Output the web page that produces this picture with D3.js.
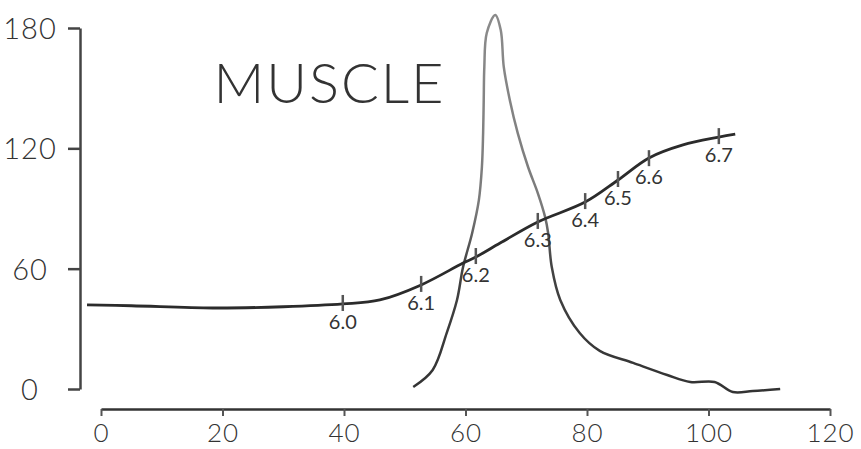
<!DOCTYPE html>
<html>
<head>
<meta charset="utf-8">
<script src="https://cdn.jsdelivr.net/npm/d3@7"></script>
<style>
  html, body { margin: 0; padding: 0; background: #fff; }
  svg { display: block; }
  text { font-family: Lato, "Open Sans", "DejaVu Sans", sans-serif; font-weight: 300; fill: #333; }
</style>
</head>
<body>
<svg id="chart" width="861" height="449"></svg>
<script>
// ---- data ----
const title = "MUSCLE";
const xTicks = [0, 20, 40, 60, 80, 100, 120];
const yTicks = [0, 60, 120, 180];

// pH curve (dark line)
const phX = [-2.3, 5, 18.4, 30, 39.8, 45.9, 52.7, 59.6, 61.7, 65.7, 71.9, 79.7, 85.1, 90.2, 95.8, 101.7, 104.4];
const phY = [41.9, 41.5, 40.4, 41, 42.4, 44.4, 51.9, 62.8, 65.8, 72.8, 83.3, 93.2, 104.2, 115.2, 121.7, 125.6, 127.1];

// pH markers on the curve
const markLabels = ["6.0", "6.1", "6.2", "6.3", "6.4", "6.5", "6.6", "6.7"];
const markX = [39.8, 52.7, 61.7, 71.9, 79.7, 85.1, 90.2, 101.7];
const markY = [42.4, 51.9, 65.8, 83.3, 93.2, 104.2, 114.6, 125.6];

// peak curve (grey line)
const peakX = [51.4, 54.6, 56.9, 58.6, 59.6, 61.1, 62.2, 62.7, 62.9, 63.0, 63.1, 63.5, 64.9, 65.8, 66.3, 67.3, 68.6, 70.3, 71.9, 73.1, 73.6, 74.2, 75.6, 78.8, 82.1, 87.6, 93.2, 97, 101, 104, 107.3, 111.8];
const peakY = [1.0, 9.5, 27.9, 44.4, 60.8, 77.8, 94.2, 110.7, 127.6, 144, 160.6, 177.5, 186.5, 179, 160.6, 144, 127.6, 110.7, 97.7, 85.8, 77.8, 60.8, 44.4, 27.9, 19, 13, 7, 3.5, 3.5, -1.5, -1, 0];

// ---- drawing ----
const svg = d3.select("#chart");
const x = d3.scaleLinear().domain([0, 120]).range([101, 830]);
const y = d3.scaleLinear().domain([0, 180]).range([389, 28]);

// gradient for the peak curve (lighter at top)
const defs = svg.append("defs");
const grad = defs.append("linearGradient")
  .attr("id", "peakGrad").attr("gradientUnits", "userSpaceOnUse")
  .attr("x1", 0).attr("x2", 0).attr("y1", y(180)).attr("y2", y(0));
grad.append("stop").attr("offset", "0%").attr("stop-color", "#8a8a8a");
grad.append("stop").attr("offset", "50%").attr("stop-color", "#7a7a7a");
grad.append("stop").attr("offset", "65%").attr("stop-color", "#444");
grad.append("stop").attr("offset", "100%").attr("stop-color", "#333");

// y axis
const yAxis = d3.axisLeft(y).tickValues(yTicks).tickSize(12).tickSizeOuter(0).tickFormat(d3.format("d"));
const gy = svg.append("g").attr("transform", "translate(80,0)").call(yAxis);
gy.select(".domain").attr("stroke", "#444").attr("stroke-width", 2.5);
gy.selectAll(".tick line").attr("stroke", "#444").attr("stroke-width", 2.5);
gy.selectAll(".tick text")
  .attr("x", -50).attr("dy", "0.36em")
  .attr("text-anchor", "middle")
  .style("font-size", "29px").style("letter-spacing", "1px")
  .attr("fill", "#333");

// x axis
const xAxis = d3.axisBottom(x).tickValues(xTicks).tickSize(7).tickSizeOuter(0).tickFormat(d3.format("d"));
const gx = svg.append("g").attr("transform", "translate(0,409)").call(xAxis);
gx.select(".domain").attr("stroke", "#333").attr("stroke-width", 2.5);
gx.selectAll(".tick line").attr("stroke", "#555").attr("stroke-width", 2);
gx.selectAll(".tick text")
  .attr("y", 33).attr("dy", 0)
  .style("font-size", "26px").style("letter-spacing", "1px")
  .attr("fill", "#333");

// title
svg.append("text")
  .attr("x", x(18.5)).attr("y", y(142.5))
  .style("font-size", "56px").style("letter-spacing", "2px")
  .attr("fill", "#555")
  .text(title);

// peak curve
const peakData = peakX.map((d, i) => [d, peakY[i]]);
svg.append("path")
  .datum(peakData)
  .attr("fill", "none")
  .attr("stroke", "url(#peakGrad)")
  .attr("stroke-width", 2.5)
  .attr("stroke-linejoin", "round")
  .attr("d", d3.line().x(d => x(d[0])).y(d => y(d[1])).curve(d3.curveCatmullRom.alpha(0.5)));

// pH curve
const phData = phX.map((d, i) => [d, phY[i]]);
svg.append("path")
  .datum(phData)
  .attr("fill", "none")
  .attr("stroke", "#2b2b2b")
  .attr("stroke-width", 2.8)
  .attr("stroke-linejoin", "round")
  .attr("d", d3.line().x(d => x(d[0])).y(d => y(d[1])).curve(d3.curveCatmullRom.alpha(0.5)));

// markers
const marks = markLabels.map((l, i) => ({ l, x: markX[i], y: markY[i] }));
const mg = svg.append("g");
mg.selectAll("line").data(marks).join("line")
  .attr("x1", d => x(d.x)).attr("x2", d => x(d.x))
  .attr("y1", d => y(d.y) - 9).attr("y2", d => y(d.y) + 7)
  .attr("stroke", "#555").attr("stroke-width", 2.5);
mg.selectAll("text").data(marks).join("text")
  .attr("x", d => x(d.x)).attr("y", d => y(d.y) + 25)
  .attr("text-anchor", "middle")
  .style("font-size", "20px").style("font-weight", 400)
  .attr("fill", "#333")
  .text(d => d.l);
</script>
</body>
</html>
